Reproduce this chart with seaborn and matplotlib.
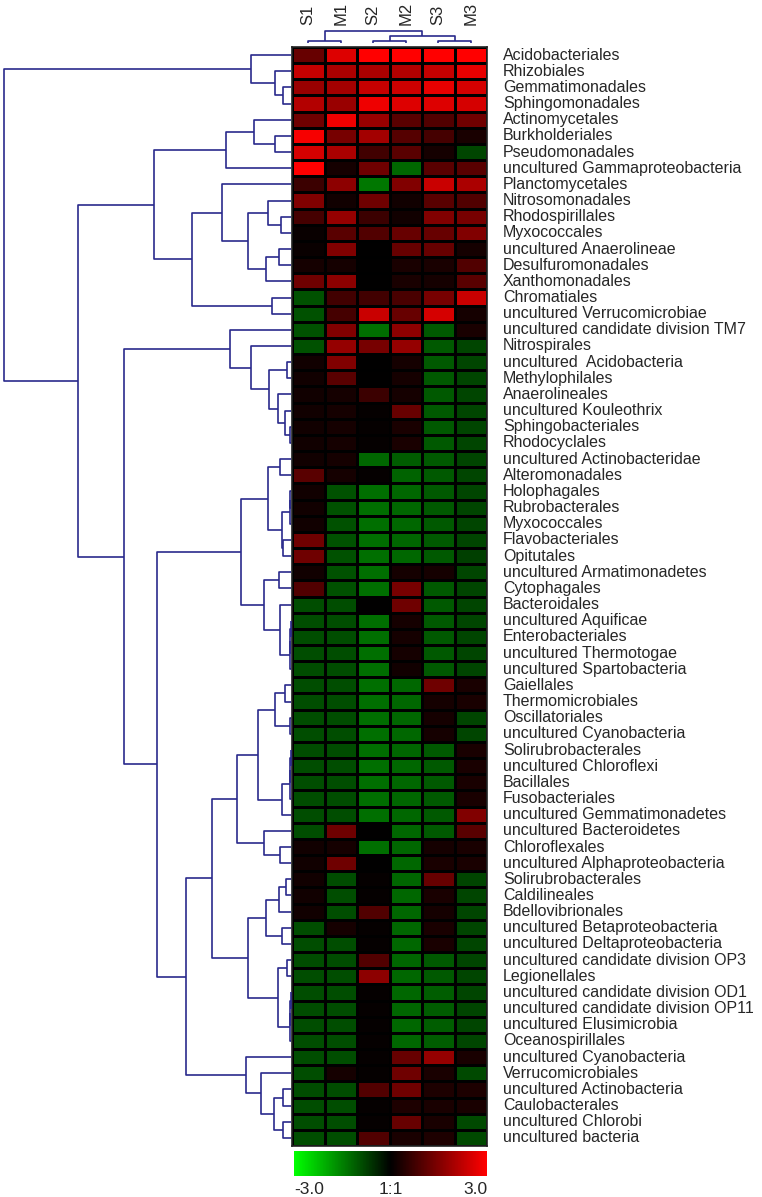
import numpy as np
import matplotlib
matplotlib.use('Agg')
import matplotlib.pyplot as plt
import seaborn as sns
from matplotlib.colors import LinearSegmentedColormap

# --------------------------------------------------------------------------
# DATA (log ratio values, rows in dendrogram order)
# --------------------------------------------------------------------------
samples = ['S1', 'M1', 'S2', 'M2', 'S3', 'M3']

taxa = [
    'Acidobacteriales', 'Rhizobiales', 'Gemmatimonadales', 'Sphingomonadales',
    'Actinomycetales', 'Burkholderiales', 'Pseudomonadales',
    'uncultured Gammaproteobacteria', 'Planctomycetales', 'Nitrosomonadales',
    'Rhodospirillales', 'Myxococcales', 'uncultured Anaerolineae',
    'Desulfuromonadales', 'Xanthomonadales', 'Chromatiales',
    'uncultured Verrucomicrobiae', 'uncultured candidate division TM7',
    'Nitrospirales', 'uncultured  Acidobacteria', 'Methylophilales',
    'Anaerolineales', 'uncultured Kouleothrix', 'Sphingobacteriales',
    'Rhodocyclales', 'uncultured Actinobacteridae', 'Alteromonadales',
    'Holophagales', 'Rubrobacterales', 'Myxococcales', 'Flavobacteriales',
    'Opitutales', 'uncultured Armatimonadetes', 'Cytophagales', 'Bacteroidales',
    'uncultured Aquificae', 'Enterobacteriales', 'uncultured Thermotogae',
    'uncultured Spartobacteria', 'Gaiellales', 'Thermomicrobiales',
    'Oscillatoriales', 'uncultured Cyanobacteria', 'Solirubrobacterales',
    'uncultured Chloroflexi', 'Bacillales', 'Fusobacteriales',
    'uncultured Gemmatimonadetes', 'uncultured Bacteroidetes', 'Chloroflexales',
    'uncultured Alphaproteobacteria', 'Solirubrobacterales', 'Caldilineales',
    'Bdellovibrionales', 'uncultured Betaproteobacteria',
    'uncultured Deltaproteobacteria', 'uncultured candidate division OP3',
    'Legionellales', 'uncultured candidate division OD1',
    'uncultured candidate division OP11', 'uncultured Elusimicrobia',
    'Oceanospirillales', 'uncultured Cyanobacteria', 'Verrucomicrobiales',
    'uncultured Actinobacteria', 'Caulobacterales', 'uncultured Chlorobi',
    'uncultured bacteria',
]

S1 = [1.2, 2.3, 1.8, 2.1, 1.3, 2.9, 2.5, 3.0, 0.7, 1.5, 0.8, 0.1, 0.1, 0.25,
      1.3, -0.95, -0.95, -0.95, -0.95, 0.2, 0.2, 0.2, 0.2, 0.2, 0.2, 0.2, 1.05,
      0.2, 0.2, 0.2, 1.3, 1.3, 0.2, 0.95, -0.9, -0.9, -0.9, -0.9, -0.9, -0.9,
      -0.9, -0.9, -0.9, -0.9, -0.9, -0.9, -0.9, -0.9, -0.9, 0.2, 0.2, 0.2, 0.2,
      0.2, -0.9, -0.9, -0.9, -0.9, -0.9, -0.9, -0.9, -0.9, -0.9, -0.9, -0.9,
      -0.9, -0.9, -0.9]
M1 = [2.6, 2.0, 1.9, 1.8, 2.8, 1.4, 2.0, 0.25, 1.65, 0.2, 1.75, 1.05, 1.5, 0.25,
      1.65, 0.75, 0.8, 1.5, 1.75, 1.5, 1.05, 0.25, 0.25, 0.25, 0.25, 0.25, 0.25,
      -0.95, -0.95, -0.95, -0.95, -0.95, -0.95, -0.95, -0.9, -0.9, -0.9, -0.9,
      -0.9, -0.9, -0.9, -0.9, -0.9, -0.9, -0.9, -0.9, -0.9, -0.9, 1.3, 0.25,
      1.3, -0.9, -0.9, -0.9, 0.25, -0.9, -0.9, -0.9, -0.9, -0.9, -0.9, -0.9,
      -0.9, 0.25, -0.9, -0.9, -0.9, -0.9]
S2 = [3.0, 2.0, 2.3, 2.8, 1.8, 1.9, 0.75, 1.3, -1.4, 1.3, 0.7, 0.95, 0.0, 0.0,
      0.0, 0.75, 2.35, -1.3, 1.4, 0.0, 0.0, 0.7, 0.05, 0.05, 0.05, -1.2, 0.05,
      -1.3, -1.3, -1.3, -1.3, -1.3, -1.3, -1.3, 0.0, -1.3, -1.3, -1.3, -1.3,
      -1.3, -1.3, -1.3, -1.3, -1.3, -1.3, -1.3, -1.3, -1.3, 0.0, -1.3, 0.0,
      0.05, 0.05, 0.95, 0.05, 0.05, 0.95, 1.65, 0.05, 0.05, 0.05, 0.05, 0.05,
      0.05, 0.95, 0.05, 0.05, 0.95]
M2 = [3.0, 2.1, 2.4, 2.6, 1.05, 1.0, 1.05, -1.2, 1.5, 0.2, 0.2, 1.2, 1.2, 0.3,
      0.3, 0.85, 1.2, 1.65, 1.75, 0.25, 0.25, 0.25, 1.2, 0.3, 0.3, -1.1, -1.15,
      -1.2, -1.2, -1.2, -1.2, -1.2, 0.25, 1.4, 1.3, 0.25, 0.25, 0.25, 0.2,
      -1.2, -1.2, -1.2, -1.2, -1.2, -1.2, -1.2, -1.2, -1.2, -1.2, -1.2, -1.2,
      -1.2, -1.2, -1.2, -1.2, -1.2, -1.2, -1.2, -1.2, -1.2, -1.2, -1.2, 1.2,
      1.3, 1.3, 0.35, 1.2, 0.3]
S3 = [3.0, 2.3, 2.7, 2.6, 0.95, 0.8, 0.25, 1.05, 2.35, 1.05, 1.5, 1.2, 1.2, 0.3,
      0.25, 1.4, 2.5, -1.05, -1.05, -1.05, -1.05, -1.05, -1.05, -1.05, -1.05,
      -1.05, -1.05, -1.05, -1.05, -1.05, -1.05, -1.05, 0.25, -1.05, -1.05,
      -1.05, -1.05, -1.05, -1.05, 1.3, 0.25, 0.25, 0.25, -1.05, -1.05, -1.05,
      -1.05, -1.05, -1.05, 0.25, 0.3, 1.2, 0.3, 0.25, 0.3, 0.3, -1.05, -1.05,
      -1.1, -1.1, -1.1, -1.1, 1.75, 0.3, 0.35, 0.3, 0.3, 0.35]
M3 = [3.0, 2.7, 2.5, 2.5, 1.3, 0.3, -0.8, 1.05, 2.0, 0.95, 1.4, 1.5, 0.25, 0.95,
      1.05, 2.35, 0.25, 0.3, -0.8, -0.8, -0.8, -0.8, -0.8, -0.8, -0.8, -0.8,
      -0.8, -0.8, -0.8, -0.8, -0.8, -0.75, -0.8, -0.8, -0.8, -0.8, -0.8, -0.8,
      -0.8, 0.3, 0.3, -0.8, -0.8, 0.3, 0.3, 0.3, 0.3, 1.5, 1.05, 0.3, 0.3, -0.8,
      -0.8, -0.8, -0.8, -0.8, -0.8, -0.8, -0.8, -0.8, -0.8, -0.8, 0.3, -0.85,
      0.35, 0.3, -0.85, -0.85]

# cluster trees: (merge height, left, right); leaves are row / column indices
row_tree = (287,
    (40, 0, (16, 1, (8, 2, 3))),
    (213,
        (137,
            (65, (37, 4, (16, 5, 6)), 7),
            (99,
                (69, 8, (43, (23, 9, (10, 10, 11)), (25, (12, 12, 13), 14))),
                (19, 15, 16))),
        (167,
            (61, 17, (40, 18, (22, (4, 19, 20), (13, 21, (6, 22, (1, 23, 24)))))),
            (134,
                (50,
                    (23, (11, 25, 26),
                         (9, (1.5, (0.8, 27, 28), 29), (8, 30, 31))),
                    (27, (12, 32, 33),
                         (11, 34, (1.5, (1, (0.5, 35, 36), 37), 38)))),
                (105,
                    (79,
                        (54,
                            (33, (16, (6, 39, 40), (1, 41, 42)),
                                 (9, (1.5, (1, (0.5, 43, 44), 45), 46), 47)),
                            (27, 48, (11, 49, 50))),
                        (43,
                            (25, (12, (5, 51, 52), 53), (9, 54, 55)),
                            (13, (4, 56, 57), (1.5, (1, (0.5, 58, 59), 60), 61)))),
                    (45, 62, (30, 63, (17, (8, 64, 65), (8, 66, 67)))))))))

col_tree = (12.7, (2.7, 0, 1), (7.7, (2.7, 2, 3), (2.7, 4, 5)))

# --------------------------------------------------------------------------
# FIGURE
# --------------------------------------------------------------------------
sns.set_style('white')
plt.rcParams['font.family'] = ['Liberation Sans', 'DejaVu Sans']

W, H = 762, 1197
fig = plt.figure(figsize=(W / 100, H / 100), dpi=100)


def px_axes(x0, y0, x1, y1):
    return fig.add_axes([x0 / W, 1 - y1 / H, (x1 - x0) / W, (y1 - y0) / H])


def tree_segments(node):
    # returns position, height and the U-shaped links below this node
    if isinstance(node, int):
        return node + 0.5, 0.0, []
    h, left, right = node
    pl, hl, sl = tree_segments(left)
    pr, hr, sr = tree_segments(right)
    link = ([hl, h, h, hr], [pl, pl, pr, pr])
    return (pl + pr) / 2, h, sl + sr + [link]


dendro_color = '#2a2a8c'
green_black_red = LinearSegmentedColormap.from_list(
    'gbr', [(0, 1, 0), (0, 0, 0), (1, 0, 0)])

values = np.array([S1, M1, S2, M2, S3, M3]).T

# heatmap
ax = px_axes(292, 47, 487, 1146)
sns.heatmap(values, cmap=green_black_red, vmin=-3, vmax=3, cbar=False,
            linewidths=1.0, linecolor='black',
            xticklabels=samples, yticklabels=taxa, ax=ax)
ax.xaxis.tick_top()
ax.yaxis.tick_right()
ax.tick_params(axis='x', length=0, pad=16, labelsize=12)
ax.tick_params(axis='y', length=0, pad=11.5, labelsize=11.5)
plt.setp(ax.get_xticklabels(), rotation=90, ha='center', va='bottom')
plt.setp(ax.get_yticklabels(), rotation=0, va='center', ha='left')
for spine in ax.spines.values():
    spine.set_visible(True)
    spine.set_linewidth(1.2)
    spine.set_color('#222222')

# row dendrogram
ax_row = px_axes(4, 47, 291, 1146)
_, _, links = tree_segments(row_tree)
for hs, ps in links:
    ax_row.plot(hs, ps, color=dendro_color, lw=1.2, clip_on=False,
                solid_capstyle='butt')
ax_row.set_xlim(287, 0)
ax_row.set_ylim(len(taxa), 0)
ax_row.axis('off')

# column dendrogram
ax_col = px_axes(292, 28, 487, 43.3)
_, _, links = tree_segments(col_tree)
for hs, ps in links:
    ax_col.plot(ps, hs, color=dendro_color, lw=1.2, clip_on=False,
                solid_capstyle='butt')
ax_col.set_xlim(0, len(samples))
ax_col.set_ylim(0, 15.3)
ax_col.axis('off')

# colour key
cax = px_axes(294, 1151, 487, 1176)
sm = plt.cm.ScalarMappable(cmap=green_black_red, norm=plt.Normalize(-3, 3))
cb = fig.colorbar(sm, cax=cax, orientation='horizontal')
cb.outline.set_visible(False)
cb.set_ticks([])
cax.text(0, -0.52, '-3.0', transform=cax.transAxes, ha='left', va='center', fontsize=12.5)
cax.text(0.5, -0.52, '1:1', transform=cax.transAxes, ha='center', va='center', fontsize=12.5)
cax.text(1, -0.52, '3.0', transform=cax.transAxes, ha='right', va='center', fontsize=12.5)

plt.savefig('out.png', dpi=100)
plt.close()
